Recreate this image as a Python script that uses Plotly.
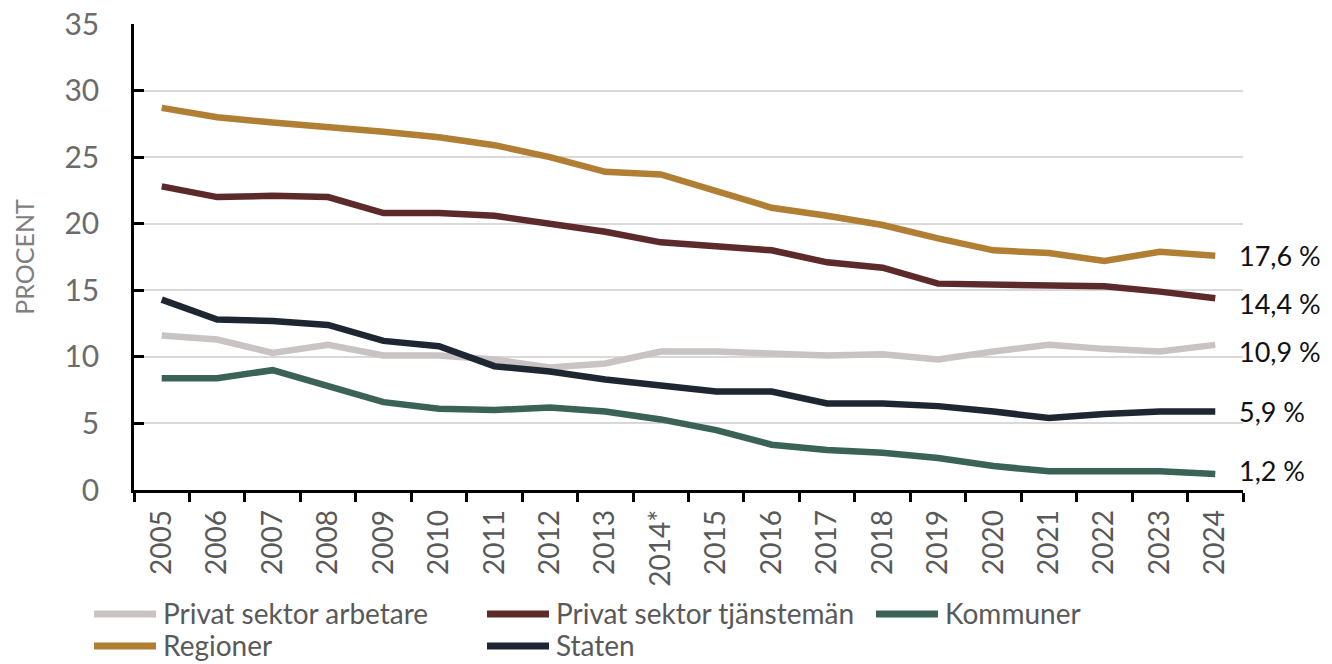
import plotly.graph_objects as go

years = ["2005", "2006", "2007", "2008", "2009", "2010", "2011", "2012", "2013", "2014*",
         "2015", "2016", "2017", "2018", "2019", "2020", "2021", "2022", "2023", "2024"]

privat_arbetare = [11.6, 11.3, 10.3, 10.9, 10.1, 10.1, 9.8, 9.2, 9.5, 10.4,
                   10.4, 10.3, 10.1, 10.2, 9.8, 10.4, 10.9, 10.6, 10.4, 10.9]
privat_tjansteman = [22.8, 22.0, 22.1, 22.0, 20.8, 20.8, 20.6, 20.0, 19.4, 18.6,
                     18.3, 18.0, 17.1, 16.7, 15.5, 15.4, 15.3, 15.3, 14.9, 14.4]
kommuner = [8.4, 8.4, 9.0, 7.8, 6.6, 6.1, 6.0, 6.2, 5.9, 5.3,
            4.5, 3.4, 3.0, 2.8, 2.4, 1.8, 1.4, 1.4, 1.4, 1.2]
regioner = [28.7, 28.0, 27.6, 27.3, 26.9, 26.5, 25.9, 25.0, 23.9, 23.7,
            22.4, 21.2, 20.6, 19.9, 18.9, 18.0, 17.8, 17.2, 17.9, 17.6]
staten = [14.3, 12.8, 12.7, 12.4, 11.2, 10.8, 9.3, 8.9, 8.3, 7.9,
          7.4, 7.4, 6.5, 6.5, 6.3, 5.9, 5.4, 5.7, 5.9, 5.9]

series = [
    ("Privat sektor arbetare", privat_arbetare, "#c9c3c3"),
    ("Privat sektor tjänstemän", privat_tjansteman, "#5c2a2b"),
    ("Kommuner", kommuner, "#3b6257"),
    ("Regioner", regioner, "#b07f34"),
    ("Staten", staten, "#1e2731"),
]

end_labels = ["10,9 %", "14,4 %", "1,2 %", "17,6 %", "5,9 %"]
end_shifts = [-7, -5, 4, 0, 0]

# page / plot geometry (pixels)
W, H = 1332, 664
ML, MR, MT, MB = 134, 89, 24, 174
PW, PH = W - ML - MR, H - MT - MB

# custom legend layout (pixel positions of entries)
leg_cols = [90, 483, 872]
leg_rows = [613, 645]
leg_sample_len = 70


def px_x(p):
    return (p - ML) / PW


def px_y(p):
    return (H - MB - p) / PH


fig = go.Figure()
for name, vals, col in series:
    fig.add_trace(go.Scatter(x=years, y=vals, name=name, mode="lines",
                             line=dict(color=col, width=6.5), showlegend=False))

last_idx = len(years) - 1
for (name, vals, col), lab, sh in zip(series, end_labels, end_shifts):
    fig.add_annotation(x=last_idx, y=vals[-1], text=lab, showarrow=False,
                       xanchor="left", yanchor="middle", xshift=22, yshift=sh,
                       font=dict(family="Lato", size=27, color="#111111"))

# legend drawn below the plot: samples and names
for i, (name, vals, col) in enumerate(series):
    r, c = divmod(i, 3)
    x0 = leg_cols[c]
    yc = leg_rows[r]
    fig.add_shape(type="line", xref="paper", yref="paper",
                  x0=px_x(x0 + 4), x1=px_x(x0 + leg_sample_len - 4),
                  y0=px_y(yc + 1), y1=px_y(yc + 1),
                  line=dict(color=col, width=7))
    fig.add_annotation(xref="paper", yref="paper", x=px_x(x0 + leg_sample_len + 1),
                       y=px_y(yc), text=name, showarrow=False,
                       xanchor="left", yanchor="middle",
                       font=dict(family="Lato", size=28, color="#595959"))

fig.update_layout(
    width=W, height=H,
    margin=dict(l=ML, r=MR, t=MT, b=MB, autoexpand=False),
    paper_bgcolor="white", plot_bgcolor="white",
    font=dict(family="Lato", color="#595959"),
    showlegend=False,
)

fig.update_xaxes(type="category", range=[-0.5, len(years) - 0.5],
                 tickson="boundaries", ticks="outside", ticklen=9,
                 tickwidth=2.5, tickcolor="black", showline=True, linecolor="black",
                 linewidth=2.5, tickangle=-90, showgrid=False, ticklabelstandoff=6,
                 tickfont=dict(family="Lato", size=28, color="#595959"))
fig.update_yaxes(range=[0, 35], dtick=5, ticks="inside", ticklen=10, tickwidth=2.5,
                 tickcolor="black", showline=True, linecolor="black", linewidth=2.5,
                 showgrid=True, gridcolor="#d9d9d9", gridwidth=2, zeroline=False,
                 ticklabelstandoff=26,
                 tickfont=dict(family="Lato", size=30, color="#6b6b6b"),
                 title=dict(text="PROCENT", standoff=23,
                            font=dict(family="Lato", size=25, color="#7f7f7f")))

fig.write_html("out.html", config={"displayModeBar": False},
               post_script="document.body.style.margin='0';document.body.style.padding='0';")
